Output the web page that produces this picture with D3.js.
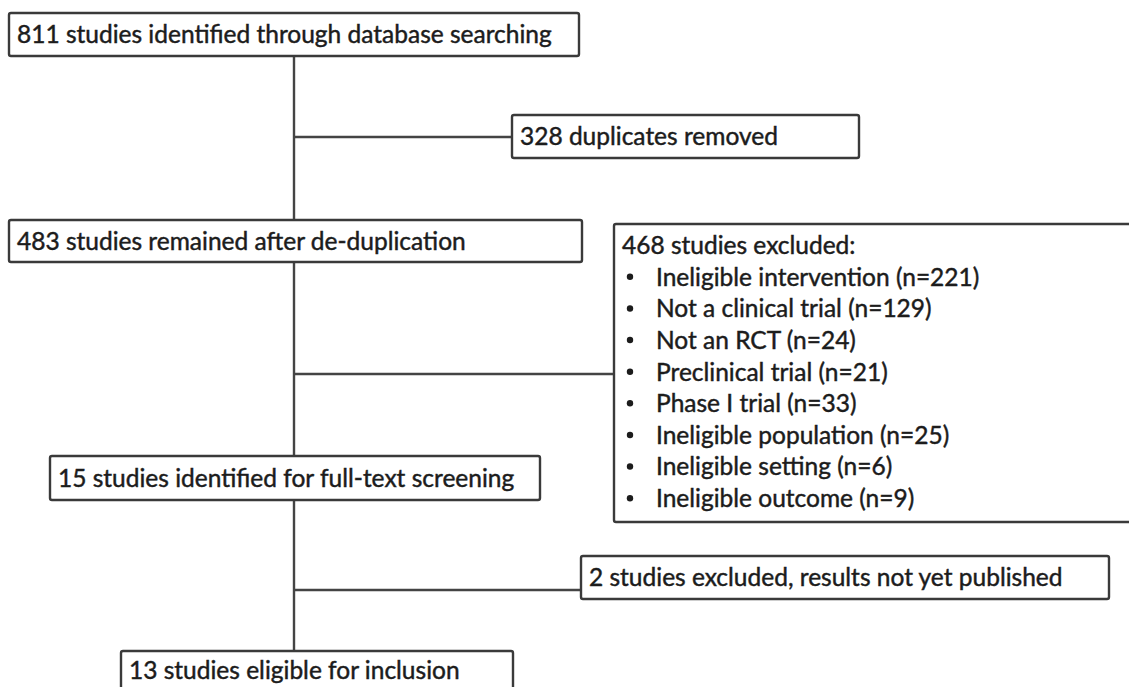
<!DOCTYPE html>
<html>
<head>
<meta charset="utf-8">
<script src="https://cdn.jsdelivr.net/npm/d3@7"></script>
<style>
	body { margin: 0; background: #fff; }
	text { font-family: Lato, "Open Sans", sans-serif; fill: #1c1c1c; stroke: #1c1c1c; stroke-width: 0.45px; }
</style>
</head>
<body>
<div id="container"></div>
<script>
// main flow boxes, top to bottom
var mainCounts = [811, 483, 15, 13];
var mainLabels = ["studies identified through database searching",
	"studies remained after de-duplication",
	"studies identified for full-text screening",
	"studies eligible for inclusion"];

// side boxes (exclusions)
var sideCounts = [328, 468, 2];
var sideLabels = ["duplicates removed", "studies excluded:", "studies excluded, results not yet published"];

var reasons = ["Ineligible intervention", "Not a clinical trial", "Not an RCT", "Preclinical trial",
	"Phase I trial", "Ineligible population", "Ineligible setting", "Ineligible outcome"];
var reasonCounts = [221, 129, 24, 21, 33, 25, 6, 9];

var width = 1129,
	height = 687,
	fontSize = 24.5,
	pad = 8;

// pixel layout of the boxes
var mainBoxes = [
	{x: 9, y: 13, w: 570, h: 43},
	{x: 9, y: 220, w: 573, h: 42},
	{x: 50, y: 456, w: 490, h: 44},
	{x: 121, y: 651, w: 392, h: 50}
];
var sideBoxes = [
	{x: 512, y: 115, w: 347, h: 43},
	{x: 614, y: 224, w: 530, h: 298},
	{x: 581, y: 556, w: 528, h: 43}
];
var spineX = 294;
var branchY = [137, 374, 590];

var svg = d3.select("#container")
	.append("svg")
		.attr("width", width)
		.attr("height", height);

var lineG = svg.append("g")
	.attr("stroke", "#444")
	.attr("stroke-width", 2.4)
	.attr("fill", "none");

// spine segments between main boxes
for (var i = 0; i < mainBoxes.length - 1; i++) {
	lineG.append("line")
		.attr("x1", spineX).attr("x2", spineX)
		.attr("y1", mainBoxes[i].y + mainBoxes[i].h)
		.attr("y2", mainBoxes[i + 1].y);
	lineG.append("line")
		.attr("x1", spineX).attr("x2", sideBoxes[i].x)
		.attr("y1", branchY[i]).attr("y2", branchY[i]);
}

function drawBox(b) {
	svg.append("rect")
		.attr("x", b.x).attr("y", b.y)
		.attr("width", b.w).attr("height", b.h)
		.attr("rx", 2)
		.attr("fill", "#fff")
		.attr("stroke", "#3a3a3a")
		.attr("stroke-width", 2.4);
}

mainBoxes.forEach(function(b, i) {
	drawBox(b);
	svg.append("text")
		.attr("x", b.x + pad)
		.attr("y", (i == 3 ? b.y + 19 : b.y + b.h / 2))
		.attr("dy", "0.36em")
		.style("font-size", fontSize + "px")
		.text(mainCounts[i] + " " + mainLabels[i]);
});

sideBoxes.forEach(function(b, i) {
	drawBox(b);
	svg.append("text")
		.attr("x", b.x + pad)
		.attr("y", (i == 1 ? b.y + 21 : b.y + b.h / 2))
		.attr("dy", "0.36em")
		.style("font-size", fontSize + "px")
		.text(sideCounts[i] + " " + sideLabels[i]);
});

// bullet list inside the big exclusion box
var box = sideBoxes[1];
var rowScale = d3.scaleBand()
	.domain(d3.range(reasons.length))
	.range([box.y + 37, box.y + 290]);

var rows = svg.selectAll("g.reason")
	.data(reasons)
	.enter().append("g")
		.attr("class", "reason")
		.attr("transform", function(d, i) {
			return "translate(0," + (rowScale(i) + rowScale.bandwidth() / 2) + ")";
		});

rows.append("circle")
	.attr("cx", box.x + 16)
	.attr("cy", 0)
	.attr("r", 3.2)
	.attr("fill", "#1c1c1c");

rows.append("text")
	.attr("x", box.x + 42)
	.attr("dy", "0.36em")
	.style("font-size", fontSize + "px")
	.text(function(d, i) {
		return d + " (n=" + reasonCounts[i] + ")";
	});
</script>
</body>
</html>
